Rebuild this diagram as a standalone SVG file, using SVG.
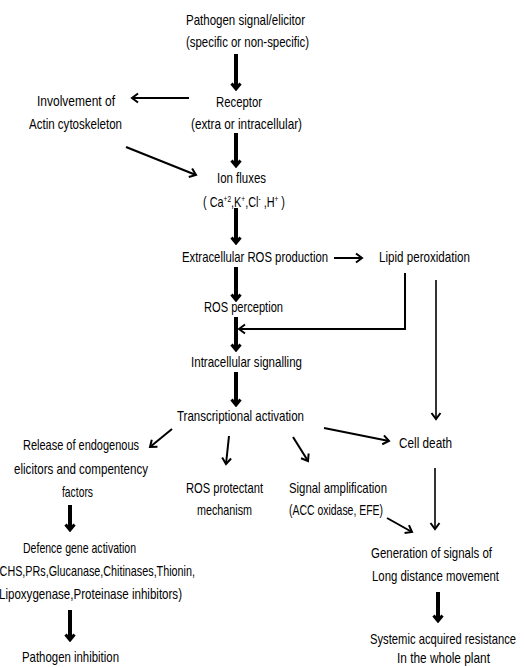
<svg xmlns="http://www.w3.org/2000/svg" width="524" height="667" viewBox="0 0 524 667">
<style>
text{font-family:"Liberation Sans",Arial,sans-serif;font-size:15px;fill:#000}
.th{stroke:#000;stroke-width:4;fill:none;marker-end:url(#hk)}
.tn{stroke:#000;stroke-width:2;fill:none;marker-end:url(#hn)}
.tl{stroke:#000;stroke-width:1.6;fill:none;marker-end:url(#hn)}
</style>
<defs>
<marker id="hk" markerUnits="userSpaceOnUse" viewBox="-10 -7 12 14" markerWidth="12" markerHeight="14" refX="0" refY="0" orient="auto">
<path d="M-5.5,-4.5 L0,0 L-5.5,4.5" stroke="#000" stroke-width="3" fill="none"/>
</marker>
<marker id="hn" markerUnits="userSpaceOnUse" viewBox="-10 -7 12 14" markerWidth="12" markerHeight="14" refX="0" refY="0" orient="auto">
<path d="M-6,-4.5 L0,0 L-6,4.5" stroke="#000" stroke-width="2" fill="none"/>
</marker>
</defs>
<rect width="524" height="667" fill="#fff"/>
<g id="connectors">
<line class="th" x1="236" y1="54" x2="236" y2="89"/>
<line class="th" x1="236" y1="133" x2="236" y2="166"/>
<line class="th" x1="236" y1="208" x2="236" y2="243"/>
<line class="th" x1="236" y1="267" x2="236" y2="300"/>
<line class="th" x1="236" y1="317" x2="236" y2="350"/>
<line class="th" x1="236" y1="372" x2="236" y2="405"/>
<line class="th" x1="70" y1="505" x2="70" y2="530"/>
<line class="th" x1="70" y1="610" x2="70" y2="640"/>
<line class="th" x1="438" y1="592" x2="438" y2="621"/>
<line class="tn" x1="189" y1="98" x2="132" y2="98"/>
<line class="tn" x1="126" y1="147" x2="196" y2="175"/>
<line class="tn" x1="334" y1="258" x2="362" y2="258"/>
<polyline class="tn" points="405,273 405,329 239,329"/>
<line class="tl" x1="436" y1="280" x2="436" y2="419"/>
<line class="tn" x1="172" y1="429" x2="150" y2="447"/>
<line class="tn" x1="229" y1="436" x2="226" y2="464"/>
<line class="tn" x1="293" y1="437" x2="308" y2="461"/>
<line class="tn" x1="324" y1="428" x2="389" y2="441"/>
<line class="tn" x1="387" y1="518" x2="412" y2="532"/>
<line class="tl" x1="435" y1="468" x2="435" y2="529"/>
</g>
<g id="n-pathogen">
<text x="186" y="25" textLength="119" lengthAdjust="spacingAndGlyphs">Pathogen signal/elicitor</text>
<text x="186" y="47" textLength="123" lengthAdjust="spacingAndGlyphs">(specific or non-specific)</text>
</g>
<g id="n-receptor">
<text x="216" y="107" textLength="46" lengthAdjust="spacingAndGlyphs">Receptor</text>
<text x="191" y="129" textLength="111" lengthAdjust="spacingAndGlyphs">(extra or intracellular)</text>
</g>
<g id="n-actin">
<text x="37" y="106" textLength="78" lengthAdjust="spacingAndGlyphs">Involvement of</text>
<text x="29" y="129" textLength="93" lengthAdjust="spacingAndGlyphs">Actin cytoskeleton</text>
</g>
<g id="n-ion">
<text x="217" y="183" textLength="49" lengthAdjust="spacingAndGlyphs">Ion fluxes</text>
<text x="203" y="207" textLength="82" lengthAdjust="spacingAndGlyphs">( Ca<tspan font-size="9" dy="-5">+2</tspan><tspan dy="5">,K</tspan><tspan font-size="9" dy="-5">+</tspan><tspan dy="5">,Cl</tspan><tspan font-size="9" dy="-5">-</tspan><tspan dy="5"> ,H</tspan><tspan font-size="9" dy="-5">+</tspan><tspan dy="5"> )</tspan></text>
</g>
<g id="n-extros">
<text x="182" y="262" textLength="146" lengthAdjust="spacingAndGlyphs">Extracellular ROS production</text>
</g>
<g id="n-lipid">
<text x="379" y="262" textLength="91" lengthAdjust="spacingAndGlyphs">Lipid peroxidation</text>
</g>
<g id="n-rosperc">
<text x="204" y="312" textLength="79" lengthAdjust="spacingAndGlyphs">ROS perception</text>
</g>
<g id="n-intra">
<text x="191" y="367" textLength="111" lengthAdjust="spacingAndGlyphs">Intracellular signalling</text>
</g>
<g id="n-trans">
<text x="177" y="421" textLength="127" lengthAdjust="spacingAndGlyphs">Transcriptional activation</text>
</g>
<g id="n-release">
<text x="23" y="450" textLength="116" lengthAdjust="spacingAndGlyphs">Release of endogenous</text>
<text x="14" y="474" textLength="134" lengthAdjust="spacingAndGlyphs">elicitors and compentency</text>
<text x="62" y="497" textLength="31" lengthAdjust="spacingAndGlyphs">factors</text>
</g>
<g id="n-defence">
<text x="23" y="553" textLength="113" lengthAdjust="spacingAndGlyphs">Defence gene activation</text>
<text x="-4" y="576" textLength="199" lengthAdjust="spacingAndGlyphs">(CHS,PRs,Glucanase,Chitinases,Thionin,</text>
<text x="-1" y="599" textLength="183" lengthAdjust="spacingAndGlyphs">Lipoxygenase,Proteinase inhibitors)</text>
</g>
<g id="n-inhib">
<text x="22" y="662" textLength="97" lengthAdjust="spacingAndGlyphs">Pathogen inhibition</text>
</g>
<g id="n-rosprot">
<text x="186" y="493" textLength="77" lengthAdjust="spacingAndGlyphs">ROS protectant</text>
<text x="197" y="515" textLength="55" lengthAdjust="spacingAndGlyphs">mechanism</text>
</g>
<g id="n-signal">
<text x="289" y="493" textLength="98" lengthAdjust="spacingAndGlyphs">Signal amplification</text>
<text x="289" y="515" textLength="94" lengthAdjust="spacingAndGlyphs">(ACC oxidase, EFE)</text>
</g>
<g id="n-death">
<text x="399" y="448" textLength="53" lengthAdjust="spacingAndGlyphs">Cell death</text>
</g>
<g id="n-generation">
<text x="371" y="558" textLength="121" lengthAdjust="spacingAndGlyphs">Generation of signals of</text>
<text x="372" y="581" textLength="127" lengthAdjust="spacingAndGlyphs">Long distance movement</text>
</g>
<g id="n-sar">
<text x="370" y="644" textLength="146" lengthAdjust="spacingAndGlyphs">Systemic acquired resistance</text>
<text x="397" y="663" textLength="93" lengthAdjust="spacingAndGlyphs">In the whole plant</text>
</g>
</svg>
